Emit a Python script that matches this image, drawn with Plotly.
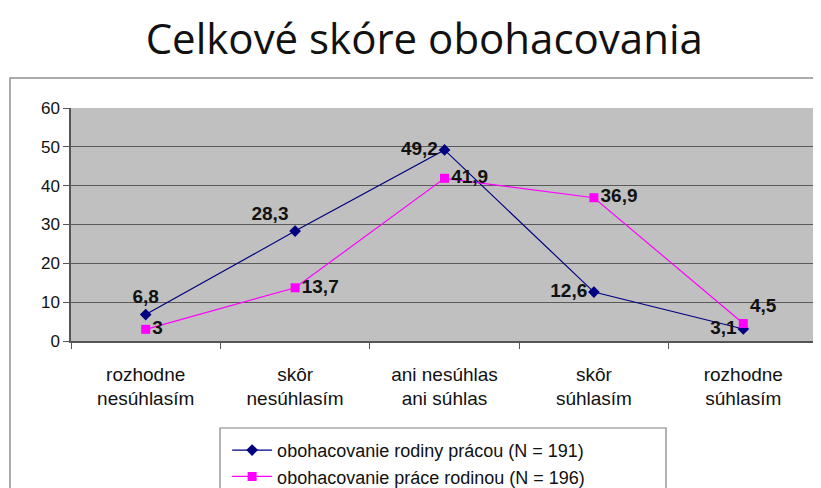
import plotly.graph_objects as go

categories = ["rozhodne<br>nesúhlasím", "skôr<br>nesúhlasím", "ani nesúhlas<br>ani súhlas",
              "skôr<br>súhlasím", "rozhodne<br>súhlasím"]
rodiny_pracou = [6.8, 28.3, 49.2, 12.6, 3.1]
prace_rodinou = [3, 13.7, 41.9, 36.9, 4.5]
name_a = "obohacovanie rodiny prácou (N = 191)"
name_b = "obohacovanie práce rodinou (N = 196)"
y_ticks = [0, 10, 20, 30, 40, 50, 60]

def fmt(v):
    return ("%g" % v).replace(".", ",")

label_font = dict(family="Liberation Sans", size=19, color="#111111", weight="bold")

fig = go.Figure()
fig.add_trace(go.Scatter(
    x=categories, y=rodiny_pracou, name=name_a, mode="lines+markers+text",
    line=dict(color="#000080", width=1.2),
    marker=dict(symbol="diamond", size=9, color="#000080"),
    text=[fmt(v) for v in rodiny_pracou],
    textposition=["top center", "top left", "middle left", "middle left", "middle left"],
    textfont=label_font,
))
fig.add_trace(go.Scatter(
    x=categories, y=prace_rodinou, name=name_b, mode="lines+markers+text",
    line=dict(color="#FF00FF", width=1.2),
    marker=dict(symbol="square", size=9, color="#FF00FF"),
    text=[fmt(v) for v in prace_rodinou],
    textposition=["middle right", "middle right", "middle right", "middle right", "top right"],
    textfont=label_font,
))

# page body adds an 8px margin, so the figure is drawn 8px smaller and offset
fig.update_layout(
    width=813, height=480,
    margin=dict(l=63, r=3, t=100, b=147, autoexpand=False),
    paper_bgcolor="white", plot_bgcolor="#C0C0C0",
    font=dict(family="Liberation Sans", color="#111111"),
    title=dict(text="Celkové skóre obohacovania", x=0.512, xanchor="center",
               y=0.935, yanchor="middle",
               font=dict(family="Open Sans", size=42, color="#111111")),
    showlegend=True,
    legend=dict(x=0.209, y=-0.39, xanchor="left", yanchor="top",
                bgcolor="rgba(0,0,0,0)", borderwidth=0,
                font=dict(size=18, color="#111111"), tracegroupgap=0,
                itemwidth=40),
    shapes=[
        dict(type="rect", xref="paper", yref="paper",
             x0=-0.0817, x1=1.02, y0=-1.2, y1=1.129,
             line=dict(color="#909090", width=1.5), layer="below"),
        dict(type="rect", xref="paper", yref="paper",
             x0=(220 - 71) / 747, x1=(666 - 71) / 747, y0=-1.2, y1=(341 - 428) / 233,
             line=dict(color="#808080", width=1.2), fillcolor="white", layer="below"),
    ],
)
fig.update_xaxes(type="category", tickson="boundaries", ticks="outside", ticklen=6,
                 tickcolor="#555555", showline=True, linecolor="#555555", linewidth=1.5,
                 showgrid=False, tickfont=dict(size=19, color="#111111"),
                 ticklabelstandoff=15, automargin=False,
                 range=[-0.5, 4.5])
fig.update_yaxes(range=[0, 60], tickvals=y_ticks, ticks="outside", ticklen=6,
                 tickcolor="#555555", showline=True, linecolor="#555555", linewidth=1.5,
                 gridcolor="#5a5a5a", gridwidth=1, zeroline=False, automargin=False,
                 tickfont=dict(size=17, color="#111111"))
fig.write_html("out.html")
